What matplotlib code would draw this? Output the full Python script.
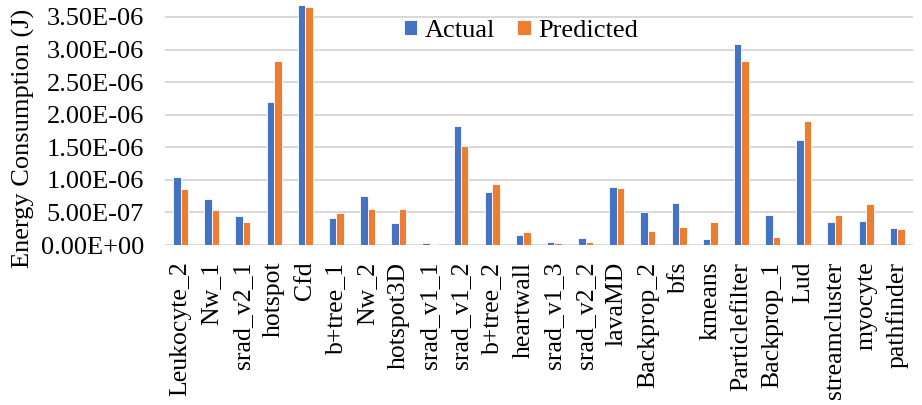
import matplotlib.pyplot as plt
import numpy as np
from matplotlib.ticker import FuncFormatter, MultipleLocator

plt.rcParams["font.family"] = ["Liberation Serif", "DejaVu Serif"]

# benchmark names and measured / predicted energy (J)
benchmarks = [
    "Leukocyte_2", "Nw_1", "srad_v2_1", "hotspot", "Cfd", "b+tree_1", "Nw_2",
    "hotspot3D", "srad_v1_1", "srad_v1_2", "b+tree_2", "heartwall", "srad_v1_3",
    "srad_v2_2", "lavaMD", "Backprop_2", "bfs", "kmeans", "Particlefilter",
    "Backprop_1", "Lud", "streamcluster", "myocyte", "pathfinder",
]
actual = [
    1.05e-6, 0.70e-6, 0.44e-6, 2.19e-6, 3.68e-6, 0.42e-6, 0.75e-6,
    0.34e-6, 0.026e-6, 1.83e-6, 0.81e-6, 0.16e-6, 0.046e-6,
    0.11e-6, 0.89e-6, 0.50e-6, 0.64e-6, 0.097e-6, 3.08e-6,
    0.46e-6, 1.61e-6, 0.35e-6, 0.37e-6, 0.26e-6,
]
predicted = [
    0.855e-6, 0.53e-6, 0.36e-6, 2.83e-6, 3.65e-6, 0.49e-6, 0.55e-6,
    0.55e-6, 0.02e-6, 1.52e-6, 0.94e-6, 0.20e-6, 0.026e-6,
    0.046e-6, 0.87e-6, 0.215e-6, 0.27e-6, 0.35e-6, 2.83e-6,
    0.12e-6, 1.90e-6, 0.46e-6, 0.63e-6, 0.25e-6,
]

x = np.arange(len(benchmarks))
w = 0.24

fig = plt.figure(figsize=(9.22, 4.05), dpi=100)
ax = fig.add_axes([0.179, 0.395, 0.811, 0.605])

ax.bar(x - w / 2, actual, w, color="#4472C4", edgecolor="white", linewidth=0.6,
       label="Actual", zorder=3)
ax.bar(x + w / 2, predicted, w, color="#ED7D31", edgecolor="white", linewidth=0.6,
       label="Predicted", zorder=3)

ax.set_xlim(-0.5, len(benchmarks) - 0.5)
ax.set_ylim(0, 3.76e-6)
ax.yaxis.set_major_locator(MultipleLocator(0.5e-6))
ax.yaxis.set_major_formatter(FuncFormatter(lambda v, p: f"{v:.2E}"))
ax.grid(axis="y", color="#D9D9D9", linewidth=1.5, zorder=0)
for s in ax.spines.values():
    s.set_visible(False)
ax.tick_params(axis="y", length=0, labelsize=19, pad=15)
ax.tick_params(axis="x", length=0, labelsize=18.5, pad=12)
ax.set_xticks(x)
ax.set_xticklabels(benchmarks, rotation=90)
ax.set_ylabel("Energy Consumption (J)", fontsize=19)
ax.yaxis.set_label_coords(-0.174, 0.435)

ax.legend(loc="center", bbox_to_anchor=(0.476, 0.875), ncol=2, frameon=False,
          fontsize=19, handlelength=0.5, handleheight=0.5, columnspacing=0.85,
          handletextpad=0.3)

fig.savefig("out.png", dpi=100)
